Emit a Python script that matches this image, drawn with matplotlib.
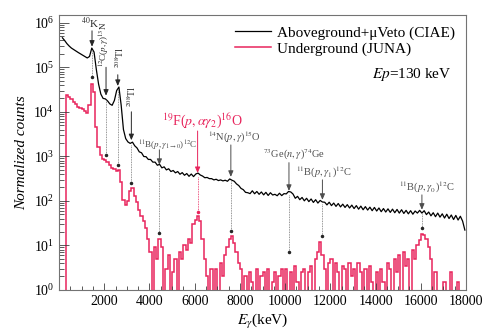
import numpy as np
import matplotlib
matplotlib.use("Agg")
import matplotlib.pyplot as plt
from matplotlib.ticker import MultipleLocator, LogLocator, NullFormatter

plt.rcParams['font.family'] = ['Liberation Serif', 'DejaVu Serif']
plt.rcParams['mathtext.fontset'] = 'stix'

# spectra, 100 keV bins
bin_width = 100
black_start = 100   # keV, first bin edge of the CIAE spectrum
red_start = 300     # keV, first bin edge of the JUNA spectrum

black_counts = [
    4.6e5, 4.0e5, 3.4e5, 3.0e5, 2.7e5, 2.5e5, 2.3e5, 2.15e5, 2.0e5, 1.85e5,      # 100-1000
    1.72e5, 1.62e5, 1.75e5, 2.7e5, 2.2e5, 9.0e4, 4.2e4, 2.5e4, 2.0e4, 1.95e4,    # 1100-2000
    1.75e4, 1.5e4, 1.4e4, 1.8e4, 3.0e4, 3.6e4, 1.4e4, 4.0e3, 2.5e3, 2.1e3,       # 2100-3000
    1950, 2080, 1720, 1540, 1260, 1200, 990, 980, 850, 850,                      # 3100-4000
    740, 740, 630, 660, 550, 580, 495, 525, 455, 480,                            # 4100-5000
    425, 455, 395, 430, 375, 410, 355, 400, 350, 400,                            # 5100-6000
    420, 380, 360, 330, 335, 315, 315, 295, 305, 285,                            # 6100-7000
    295, 280, 290, 275, 310, 290, 275, 240, 220, 190,                            # 7100-8000
    178, 155, 152, 145, 168, 144, 162, 140, 158, 136,                            # 8100-9000
    155, 132, 152, 135, 140, 130, 148, 131, 145, 143,                            # 9100-10000
    162, 158, 142, 114, 126, 106, 119, 100, 114, 96,                             # 10100-11000
    110, 92, 106, 89, 102, 94, 93, 81, 93, 78,                                   # 11100-12000
    89, 75, 87, 73, 84, 71, 82, 69, 80, 67,                                      # 12100-13000
    78, 65, 76, 63, 74, 62, 72, 60, 71, 59,                                      # 13100-14000
    69, 57, 67, 56, 66, 55, 65, 54, 64, 53,                                      # 14100-15000
    63, 52, 61, 51, 60, 50, 59, 53, 61, 53,                                      # 15100-16000
    60, 49, 56, 46, 54, 44, 53, 43, 51, 41,                                      # 16100-17000
    50, 40, 48, 38, 47, 37, 45, 35, 22,                                          # 17100-17900
]

red_counts = [
    2.4e4, 2.1e4, 1.95e4, 1.7e4, 1.5e4, 1.3e4, 1.2e4, 1.15e4, 1.05e4, 9.6e3,     # 300-1200
    1.4e4, 4.2e4, 2.8e4, 4.5e3, 1.6e3, 1050, 880, 820, 760, 640,                 # 1300-2200
    560, 520, 470, 500, 260, 105, 80, 100, 165, 190,                             # 2300-3200
    130, 95, 62, 45, 35, 24, 14,                                                 # 3300-3900
    7, 0, 9, 5, 14, 9, 0, 3, 6, 0,                                               # 4000-4900
    2.5, 5, 0, 7, 5, 10, 8, 14, 11, 30,                                          # 5000-5900
    38, 45, 36, 14, 5, 2, 0, 3, 0, 3,                                            # 6000-6900
    0, 4, 2, 6, 9, 14, 16, 11, 7, 4,                                             # 7000-7900
    3, 0, 2, 0, 2.5, 1.5, 0, 3, 0, 2,                                            # 8000-8900
    2.5, 0, 3, 0, 1.5, 2.5, 0, 2, 3, 0,                                          # 9000-9900
    3, 0, 2.5, 0, 3.5, 1.5, 0, 2.5, 3, 0,                                        # 10000-10900
    2.5, 3.5, 0, 5, 7, 12, 6, 3, 0, 4,                                           # 11000-11900
    5, 0, 4, 2.5, 0, 3.5, 3, 0, 4, 2,                                            # 12000-12900
    3, 0, 4, 2.5, 0, 3, 0, 3.5, 1.5, 0,                                          # 13000-13900
    2.5, 0, 3, 1.5, 0, 4, 3, 0, 5, 2.5,                                          # 14000-14900
    6, 0, 7, 3.5, 5, 0, 8, 5, 10, 13,                                            # 15000-15900
    18, 17, 14, 9, 5, 0, 2.5, 0, 0, 0,                                           # 16000-16900
    1.5, 0, 0, 2.5, 0, 0, 1.5, 0, 0, 0,                                          # 17000-17900
]

# line identifications: label, text x, text y, rotation, line energy,
# arrow start, arrow tip (on CIAE spectrum), dotted end (on JUNA spectrum), colour, size
lines = [
    (r"$^{40}$K", 1360, 9.5e5, 0, 1460, 6.6e5, 2.9e5, 6.1e4, '0.15', 8),
    (r"$^{12}$C($p,\gamma$)$^{13}$N", 2020, 3.3e5, 90, 2080, 1.0e5, 2.3e4, 1.07e3, '0.15', 6.5),
    (r"$^{208}$Tl", 2660, 1.7e5, 90, 2600, 6.8e4, 3.8e4, 640, '0.15', 7),
    (r"$^{208}$Tl", 3200, 2.2e4, 90, 3200, 1.0e4, 2.3e3, 250, '0.15', 7),
    (r"$^{11}$B($p,\gamma_{1\rightarrow0}$)$^{12}$C", 4820, 1.7e3, 0, 4440, 1.4e3, 640, 19, '0.3', 6.5),
    (r"$^{19}$F($p,\alpha\gamma_2$)$^{16}$O", 6330, 6.0e3, 0, 6130, 3.7e3, 420, 55, '#e8245c', 10),
    (r"$^{14}$N($p,\gamma$)$^{15}$O", 7780, 2.6e3, 0, 7600, 1.8e3, 345, 21, '0.3', 7.5),
    (r"$^{73}$Ge($n,\gamma$)$^{74}$Ge", 10400, 1.08e3, 0, 10170, 720, 167, 7.1, '0.3', 7.5),
    (r"$^{11}$B($p,\gamma_1$)$^{12}$C", 11720, 425, 0, 11650, 296, 105, 16, '0.3', 7.5),
    (r"$^{11}$B($p,\gamma_0$)$^{12}$C", 16280, 195, 0, 16050, 136, 63, 25, '0.3', 7.5),
]

red = '#e8245c'

black_centers = black_start + bin_width * (np.arange(len(black_counts)) + 0.5)
red_edges = red_start + bin_width * np.arange(len(red_counts) + 1)
# empty bins fall below the log axis
red_plot = np.clip(np.array(red_counts, dtype=float), 0.1, None)

fig = plt.figure(figsize=(5.0, 3.32), dpi=100)
ax = fig.add_axes([0.118, 0.127, 0.814, 0.828])
ax.set_yscale('log')

ax.plot(black_centers, black_counts, color='black', lw=0.9,
        label=u'Aboveground+\u03bcVeto (CIAE)')
ax.stairs(red_plot, red_edges, color=red, lw=1.1, baseline=0.1,
          label='Underground (JUNA)')

for label, tx, ty, rot, ex, y0, y1, y2, col, fs in lines:
    ax.text(tx, ty, label, rotation=rot, ha='center', va='center',
            fontsize=fs, color=col)
    ax.annotate('', xy=(ex, y1), xytext=(ex, y0),
                arrowprops=dict(arrowstyle='-|>,head_length=0.35,head_width=0.15',
                                lw=0.7, color=col, shrinkA=0, shrinkB=0))
    dot_col = red if col == red else '0.45'
    ax.plot([ex, ex], [y1 * 0.8, y2], ls=(0, (1, 1)), lw=0.6, color=dot_col)
    ax.plot([ex], [y2], 'o', ms=1.5, color='0.15' if col != red else red)

ax.set_xlim(0, 18000)
ax.set_ylim(1, 1.5e6)
ax.set_xticks([2000, 4000, 6000, 8000, 10000, 12000, 14000, 16000, 18000])
ax.xaxis.set_minor_locator(MultipleLocator(500))
ax.yaxis.set_major_locator(LogLocator(base=10, numticks=10))
ax.yaxis.set_minor_locator(LogLocator(base=10, subs=np.arange(2, 10), numticks=10))
ax.yaxis.set_minor_formatter(NullFormatter())

ax.tick_params(axis='both', which='both', direction='in', width=0.6, color='0.25',
               labelsize=10, top=False, right=False)
ax.tick_params(axis='y', which='major', length=7)
ax.tick_params(axis='y', which='minor', length=3.5)
ax.tick_params(axis='x', which='major', length=5)
ax.tick_params(axis='x', which='minor', length=3)
for sp in ax.spines.values():
    sp.set_color('0.45')
    sp.set_linewidth(0.8)

ax.set_xlabel(r'$E_{\gamma}$(keV)', fontsize=11, labelpad=3)
ax.set_ylabel('Normalized counts', fontsize=11, style='italic', labelpad=4)

ax.legend(loc='upper right', frameon=False, fontsize=11, handlelength=2.4,
          borderaxespad=0.3, labelspacing=0.15, handletextpad=0.4)
ax.text(0.965, 0.785, r'$Ep$=130 keV', transform=ax.transAxes, ha='right',
        va='center', fontsize=11)

fig.savefig('out.png', dpi=100)
